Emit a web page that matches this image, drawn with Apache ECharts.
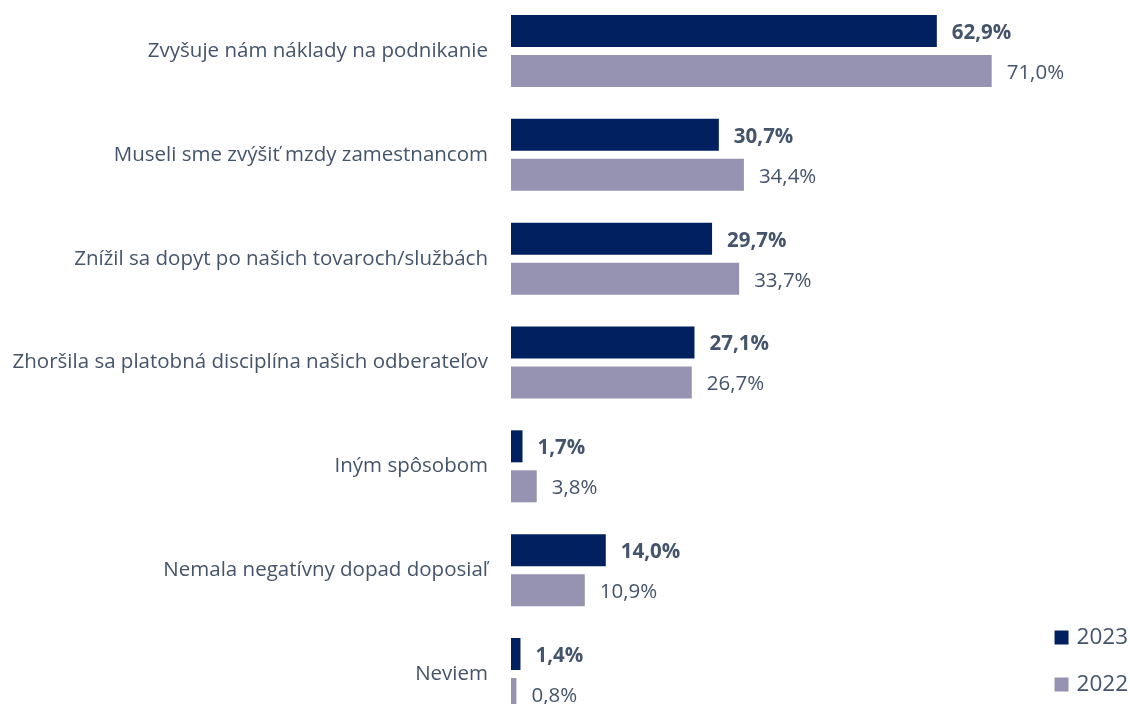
<!DOCTYPE html>
<html><head><meta charset="utf-8">
<script src="https://cdn.jsdelivr.net/npm/echarts@6/dist/echarts.min.js"></script>
<style>html,body{margin:0;padding:0;background:#fff}#c{width:1130px;height:704px}</style>
</head><body><div id="c"></div>
<script>
const categories = [
  "Zvyšuje nám náklady na podnikanie",
  "Museli sme zvýšiť mzdy zamestnancom",
  "Znížil sa dopyt po našich tovaroch/službách",
  "Zhoršila sa platobná disciplína našich odberateľov",
  "Iným spôsobom",
  "Nemala negatívny dopad doposiaľ",
  "Neviem"
];
const values2023 = [62.9, 30.7, 29.7, 27.1, 1.7, 14.0, 1.4];
const values2022 = [71.0, 34.4, 33.7, 26.7, 3.8, 10.9, 0.8];
const seriesNames = ["2023", "2022"];

const fmt = p => p.value.toFixed(1).replace('.', ',') + '%';
const FONT = 'Open Sans';
const chart = echarts.init(document.getElementById('c'));
chart.setOption({
  animation: false,
  textStyle: {fontFamily: FONT},
  grid: {left: 511, width: 609.3, top: -0.9, height: 726.8, containLabel: false, outerBoundsMode: 'none'},
  xAxis: {type: 'value', min: 0, max: 90, show: false},
  yAxis: {
    type: 'category', data: categories, inverse: true,
    axisLine: {show: false}, axisTick: {show: false},
    axisLabel: {color: '#44546A', fontSize: 20.5, margin: 23, fontFamily: FONT}
  },
  legend: {
    orient: 'vertical', right: 2, top: 626, height: 120, itemGap: 24,
    itemWidth: 14, itemHeight: 14, icon: 'rect', padding: 0,
    textStyle: {color: '#44546A', fontSize: 22.5, lineHeight: 20, fontFamily: FONT, padding: [0, 0, 0, 3]},
    data: seriesNames
  },
  series: [
    {name: seriesNames[0], type: 'bar', data: values2023, barWidth: 32, barGap: '25%',
     itemStyle: {color: '#002060'},
     label: {show: true, position: 'right', distance: 15, offset: [0, 2], formatter: fmt,
       color: '#44546A', fontSize: 20.5, fontWeight: 'bold', fontFamily: FONT}},
    {name: seriesNames[1], type: 'bar', data: values2022, barWidth: 32,
     itemStyle: {color: '#9592B2'},
     label: {show: true, position: 'right', distance: 15, offset: [0, 2], formatter: fmt,
       color: '#44546A', fontSize: 20.5, fontFamily: FONT}}
  ]
});
</script></body></html>
